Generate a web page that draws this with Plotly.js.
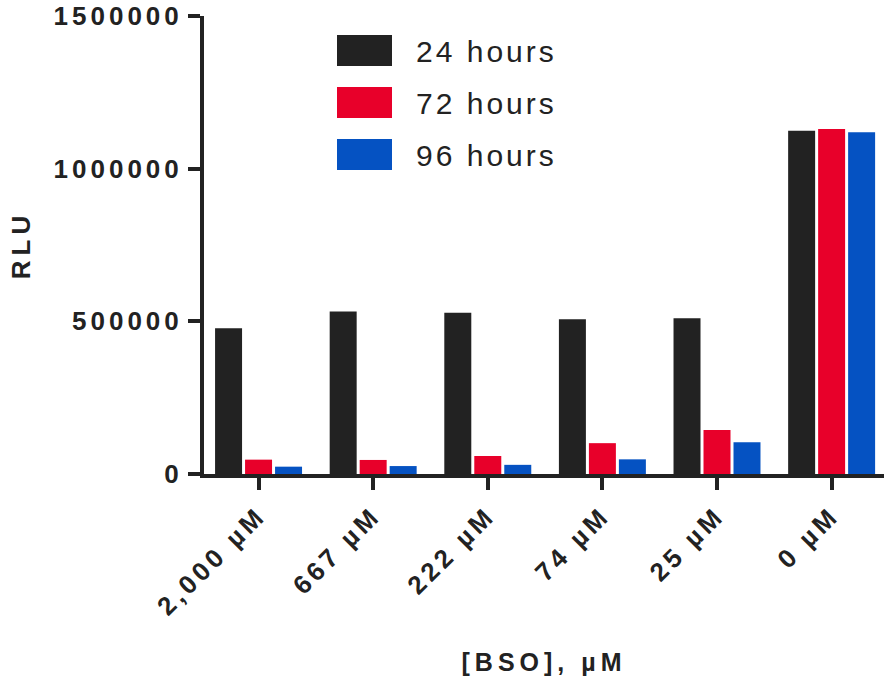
<!DOCTYPE html>
<html>
<head>
<meta charset="utf-8">
<script src="https://cdn.plot.ly/plotly-3.0.1.min.js"></script>
<style>
  html, body { margin: 0; padding: 0; background: #ffffff; }
  #chart { width: 884px; height: 685px; }
  .xtick text, .ytick text { letter-spacing: 4px; }
  .g-xtitle text, .g-ytitle text { letter-spacing: 5px; }
  .annotation-text { letter-spacing: 3px; }
</style>
</head>
<body>
<div id="chart"></div>
<script>
// ---- data ----
const categories = ['2,000 µM', '667 µM', '222 µM', '74 µM', '25 µM', '0 µM'];
const seriesNames = ['24 hours', '72 hours', '96 hours'];
const hours24 = [477000, 532000, 528000, 507000, 510000, 1124000];
const hours72 = [47000, 46000, 59000, 101000, 144000, 1130000];
const hours96 = [24000, 26000, 30000, 48000, 104000, 1119000];
const yTickValues = [0, 500000, 1000000, 1500000];
const yTickLabels = ['0', '500000', '1000000', '1500000'];

// ---- styling ----
const colors = ['#222222', '#e8002a', '#0552c2'];
const seriesValues = [hours24, hours72, hours96];
const font = 'Liberation Sans, Arial, sans-serif';

const traces = seriesValues.map((vals, i) => ({
  type: 'bar',
  name: seriesNames[i],
  x: categories,
  y: vals,
  marker: { color: colors[i], line: { width: 0 } },
  showlegend: false,
  hoverinfo: 'x+y+name'
}));

// custom legend with large swatches (paper coordinates)
const plotTop = 16, plotH = 458, plotL = 204, plotW = 680;
const px2x = p => (p - plotL) / plotW;
const px2y = p => (plotTop + plotH - p) / plotH;
const shapes = [];
const annotations = [];
seriesNames.forEach((name, i) => {
  const top = 35 + i * 52;
  shapes.push({
    type: 'rect', xref: 'paper', yref: 'paper',
    x0: px2x(337), x1: px2x(392), y0: px2y(top + 31), y1: px2y(top),
    fillcolor: colors[i], line: { width: 0 }
  });
  annotations.push({
    xref: 'paper', yref: 'paper', x: px2x(414), y: px2y(top + 16),
    xanchor: 'left', yanchor: 'middle', showarrow: false,
    text: name, font: { family: font, size: 30, color: '#222222' }
  });
});

const layout = {
  width: 884, height: 685,
  margin: { l: plotL, r: 0, t: plotTop, b: 685 - plotTop - plotH },
  paper_bgcolor: '#ffffff', plot_bgcolor: '#ffffff',
  barmode: 'group', bargap: 0.215, bargroupgap: 0.1,
  font: { family: font, color: '#222222' },
  xaxis: {
    type: 'category',
    range: [-0.476, 5.457],
    showline: true, linecolor: '#222222', linewidth: 4,
    ticks: 'outside', ticklen: 12, tickwidth: 4, tickcolor: '#222222',
    tickangle: -45,
    tickfont: { family: font, size: 26, color: '#222222', weight: 'bold' },
    showgrid: false, zeroline: false,
    title: { text: '[BSO], µM', standoff: 34,
             font: { family: font, size: 25, color: '#222222', weight: 'bold' } }
  },
  yaxis: {
    range: [0, 1500000],
    tickvals: yTickValues, ticktext: yTickLabels,
    showline: true, linecolor: '#222222', linewidth: 4,
    ticks: 'outside', ticklen: 12, tickwidth: 4, tickcolor: '#222222',
    tickfont: { family: font, size: 26, color: '#222222', weight: 'bold' },
    showgrid: false, zeroline: false,
    title: { text: 'RLU', standoff: 16,
             font: { family: font, size: 26, color: '#222222', weight: 'bold' } }
  },
  shapes: shapes,
  annotations: annotations
};

Plotly.newPlot('chart', traces, layout, { displayModeBar: false, staticPlot: true });
</script>
</body>
</html>
